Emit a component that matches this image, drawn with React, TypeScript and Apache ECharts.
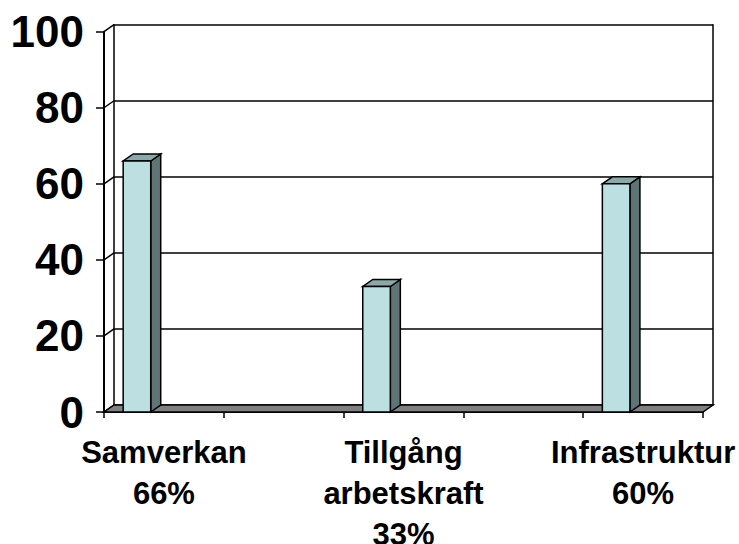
import React, { useEffect, useRef } from "react";
import * as echarts from "echarts";

// ---- data ----
const categories = ["Samverkan", "Tillgång\narbetskraft", "Infrastruktur"];
const values = [66, 33, 60];
const yTicks = [0, 20, 40, 60, 80, 100];

// ---- style ----
const FONT = "'Liberation Sans', Arial, sans-serif";
const DX = 10;
const DY = -7;
const FRONT = "#bcdfe2";
const TOP = "#8aa9aa";
const SIDE = "#5f7575";
const FLOOR = "#808080";
const LINE = "#000000";

export default function App() {
  const ref = useRef<HTMLDivElement>(null);

  useEffect(() => {
    if (!ref.current) return;
    const chart = echarts.init(ref.current, undefined, { renderer: "svg" });

    const slotLabels: string[] = [];
    const barData: number[][] = [];
    categories.forEach((c, i) => {
      if (i > 0) slotLabels.push("");
      barData.push([slotLabels.length, values[i]]);
      slotLabels.push(c + "\n" + values[i] + "%");
    });
    const lastSlot = slotLabels.length - 1;
    const yMin = yTicks[0];
    const yMax = yTicks[yTicks.length - 1];
    const yInt = yTicks[1] - yTicks[0];

    const option: any = {
      animation: false,
      backgroundColor: "#ffffff",
      grid: [
        { left: 104, right: 36, top: 31.7, bottom: 132, containLabel: false, outerBoundsMode: "none" },
        { left: 104 + DX, right: 36 - DX, top: 31.7 + DY, bottom: 132 - DY, containLabel: false, outerBoundsMode: "none" },
      ],
      xAxis: [
        {
          type: "category",
          gridIndex: 0,
          data: slotLabels,
          boundaryGap: true,
          axisLine: { show: true, lineStyle: { color: LINE, width: 2 } },
          axisTick: { show: true, interval: 0, length: 6, lineStyle: { color: LINE, width: 1.5 } },
          axisLabel: {
            interval: 0,
            margin: 20,
            fontFamily: FONT,
            fontWeight: "bold",
            fontSize: 31,
            lineHeight: 41,
            color: "#000",
          },
          splitLine: { show: false },
        },
        { type: "category", gridIndex: 1, data: slotLabels, show: false },
      ],
      yAxis: [
        {
          type: "value",
          gridIndex: 0,
          min: yMin,
          max: yMax,
          interval: yInt,
          axisLine: { show: true, lineStyle: { color: LINE, width: 2 } },
          axisTick: { show: true, length: 8, lineStyle: { color: LINE, width: 1.5 } },
          axisLabel: { margin: 20, fontFamily: FONT, fontWeight: "bold", fontSize: 44, color: "#000" },
          splitLine: { show: false },
        },
        {
          type: "value",
          gridIndex: 1,
          min: yMin,
          max: yMax,
          interval: yInt,
          position: "left",
          axisLine: { show: true, lineStyle: { color: LINE, width: 1.5 } },
          axisTick: { show: false },
          axisLabel: { show: false },
          splitLine: { show: true, lineStyle: { color: LINE, width: 1.5 } },
        },
        {
          type: "value",
          gridIndex: 1,
          min: yMin,
          max: yMax,
          interval: yInt,
          position: "right",
          axisLine: { show: true, lineStyle: { color: LINE, width: 1.5 } },
          axisTick: { show: false },
          axisLabel: { show: false },
          splitLine: { show: false },
        },
      ],
      series: [
        {
          type: "custom",
          name: "walls",
          xAxisIndex: 0,
          yAxisIndex: 0,
          clip: false,
          z: 2,
          silent: true,
          data: yTicks.map((t) => [0, t]),
          renderItem: (params: any, api: any) => {
            const p = api.coord([0, api.value(1)]);
            const cw = api.size([1, 0])[0];
            const xl = p[0] - cw / 2;
            return {
              type: "line",
              shape: { x1: xl, y1: p[1], x2: xl + DX, y2: p[1] + DY },
              style: { stroke: LINE, lineWidth: 1.5 },
            };
          },
        },
        {
          type: "custom",
          name: "floor",
          xAxisIndex: 0,
          yAxisIndex: 0,
          clip: false,
          z: 3,
          silent: true,
          data: [[0, yMin]],
          renderItem: (params: any, api: any) => {
            const cw = api.size([1, 0])[0];
            const a = api.coord([0, yMin]);
            const b = api.coord([lastSlot, yMin]);
            const xl = a[0] - cw / 2;
            const xr = b[0] + cw / 2;
            const y = a[1];
            return {
              type: "polygon",
              shape: { points: [[xl, y], [xr, y], [xr + DX, y + DY], [xl + DX, y + DY]] },
              style: { fill: FLOOR, stroke: LINE, lineWidth: 1.5 },
            };
          },
        },
        {
          type: "custom",
          name: "bars",
          xAxisIndex: 0,
          yAxisIndex: 0,
          clip: false,
          z: 4,
          data: barData,
          renderItem: (params: any, api: any) => {
            const slot = api.value(0);
            const v = api.value(1);
            const t = api.coord([slot, v]);
            const b = api.coord([slot, yMin]);
            const cw = api.size([1, 0])[0];
            const w = cw * 0.23;
            const x0 = t[0] - cw / 2 + cw * 0.16;
            const y1 = t[1];
            const y0 = b[1];
            const st = { stroke: LINE, lineWidth: 1.5 };
            return {
              type: "group",
              children: [
                {
                  type: "polygon",
                  shape: { points: [[x0 + w, y0], [x0 + w + DX, y0 + DY], [x0 + w + DX, y1 + DY], [x0 + w, y1]] },
                  style: { fill: SIDE, ...st },
                },
                {
                  type: "polygon",
                  shape: { points: [[x0, y1], [x0 + w, y1], [x0 + w + DX, y1 + DY], [x0 + DX, y1 + DY]] },
                  style: { fill: TOP, ...st },
                },
                {
                  type: "rect",
                  shape: { x: x0, y: y1, width: w, height: y0 - y1 },
                  style: { fill: FRONT, ...st },
                },
              ],
            };
          },
        },
      ],
    };

    chart.setOption(option);
    return () => chart.dispose();
  }, []);

  return (
    <div
      ref={ref}
      style={{ position: "fixed", left: 0, top: 0, width: 739, height: 544, background: "#fff" }}
    />
  );
}
